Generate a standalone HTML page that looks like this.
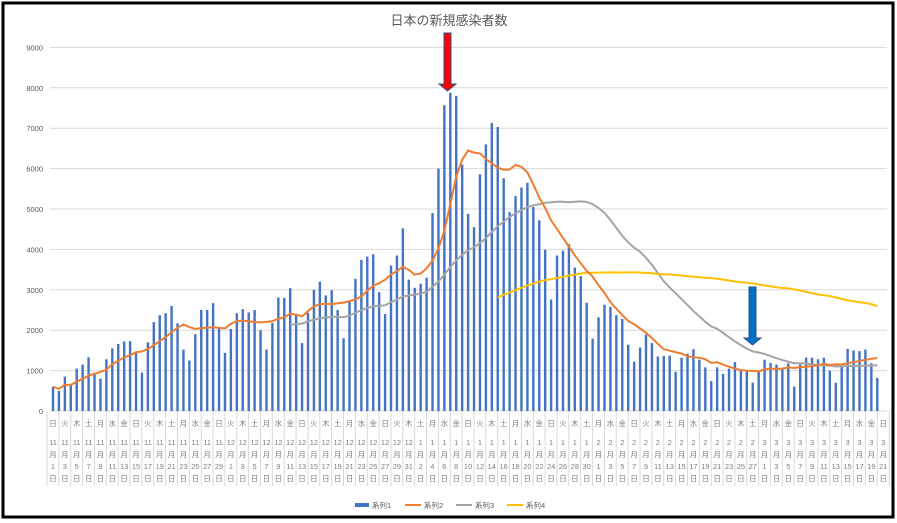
<!DOCTYPE html>
<html><head><meta charset="utf-8"><style>
body{margin:0;background:#fff;width:897px;height:523px;overflow:hidden}
svg{display:block;font-family:"Liberation Sans","Noto Sans CJK JP",sans-serif}
</style></head><body>
<svg id="s" width="897" height="523" xmlns="http://www.w3.org/2000/svg"></svg>
<script>
const d=[0.6,0.5,0.85,0.63,1.05,1.15,1.33,0.93,0.8,1.28,1.55,1.66,1.72,1.73,1.44,0.95,1.7,2.2,2.37,2.42,2.6,2.17,1.52,1.25,1.9,2.5,2.5,2.67,2.06,1.44,
2.03,2.42,2.52,2.44,2.5,2.0,1.52,2.18,2.81,2.8,3.04,2.36,1.68,2.43,3.0,3.2,2.86,2.99,2.5,1.8,2.7,3.27,3.74,3.82,3.88,2.94,2.4,3.6,3.85,4.52,3.25,
3.05,3.15,3.3,4.9,6.0,7.57,7.88,7.8,6.1,4.88,4.55,5.86,6.6,7.13,7.03,5.76,4.92,5.32,5.53,5.65,5.05,4.72,3.99,2.76,3.85,3.97,4.13,3.55,3.34,2.68,
1.79,2.32,2.63,2.58,2.37,2.28,1.64,1.22,1.57,1.89,1.68,1.35,1.36,1.37,0.97,1.32,1.42,1.53,1.27,1.08,0.74,1.08,0.92,1.05,1.21,1.0,
0.98,0.7,1.0,1.27,1.19,1.15,1.06,1.18,0.6,1.15,1.32,1.32,1.28,1.32,1.0,0.7,1.12,1.54,1.5,1.48,1.52,1.18,0.82];
const N=141,x0=53,dx=5.93,y0=411,k=40.4;
let h='';
h+='<rect x="3" y="3" width="890" height="514" fill="#fff" stroke="#000" stroke-width="3"/>';
h+='<text x="449" y="25" font-size="13" fill="#595959" text-anchor="middle">日本の新規感染者数</text>';
for(let i=0;i<=9;i++){const y=y0-i*k;h+=`<line x1="50" x2="887" y1="${y}" y2="${y}" stroke="#d9d9d9" stroke-width="1"/>`;h+=`<text x="43" y="${y+3}" font-size="7.5" fill="#595959" text-anchor="end">${i*1000}</text>`;}
const X=i=>x0+i*dx, Y=v=>y0-v*k;
for(let i=0;i<N;i++)h+=`<rect x="${X(i)-1.2}" y="${Y(d[i])}" width="2.4" height="${d[i]*k}" fill="#4472c4"/>`;
function ma(w,start,sc){sc=sc||1;let p=[];for(let i=start;i<N;i++){let s=0,c=0;for(let j=Math.max(0,i-w+1);j<=i;j++){s+=d[j];c++;}p.push(X(i).toFixed(1)+','+Y(s/c*sc).toFixed(1));}return p.join(' ');}
h+=`<polyline points="${ma(28,40)}" fill="none" stroke="#a5a5a5" stroke-width="2"/>`;
h+=`<polyline points="${ma(75,75,0.96)}" fill="none" stroke="#ffc000" stroke-width="2"/>`;
h+=`<polyline points="${ma(7,0)}" fill="none" stroke="#ed7d31" stroke-width="2"/>`;
const wd=['日','月','火','水','木','金','土'];
const months=[[11,30],[12,31],[1,31],[2,28],[3,21]];
let idx=0;
for(const [m,n] of months){for(let dd=1;dd<=n;dd++,idx++){if(idx%2)continue;const x=X(idx);
h+=`<line x1="${x-6}" x2="${x-6}" y1="411" y2="486" stroke="#d9d9d9"/>`;
h+=`<g font-size="7.5" fill="#7f7f7f" text-anchor="middle"><text x="${x}" y="426">${wd[idx%7]}</text><text x="${x}" y="445">${m}</text><text x="${x}" y="457">月</text><text x="${x}" y="469">${dd}</text><text x="${x}" y="481">日</text></g>`;}}
h+=`<line x1="${X(140)+6}" x2="${X(140)+6}" y1="411" y2="486" stroke="#d9d9d9"/>`;
h+='<rect x="355" y="503" width="14" height="4" fill="#4472c4"/><text x="372" y="508" font-size="7.5" fill="#595959">系列1</text>';
h+='<line x1="405" x2="421" y1="505" y2="505" stroke="#ed7d31" stroke-width="2"/><text x="424" y="508" font-size="7.5" fill="#595959">系列2</text>';
h+='<line x1="456" x2="472" y1="505" y2="505" stroke="#a5a5a5" stroke-width="2"/><text x="475" y="508" font-size="7.5" fill="#595959">系列3</text>';
h+='<line x1="507" x2="523" y1="505" y2="505" stroke="#ffc000" stroke-width="2"/><text x="526" y="508" font-size="7.5" fill="#595959">系列4</text>';
h+='<polygon points="444,33 451,33 451,84 456,84 447.5,91 439,84 444,84" fill="#ff0000" stroke="#2f528f" stroke-width="1"/>';
h+='<polygon points="749,287 756,287 756,338 761,338 752.5,345 744,338 749,338" fill="#0070c0" stroke="#2f528f" stroke-width="1"/>';
document.getElementById('s').innerHTML=h;
</script>
</body></html>
